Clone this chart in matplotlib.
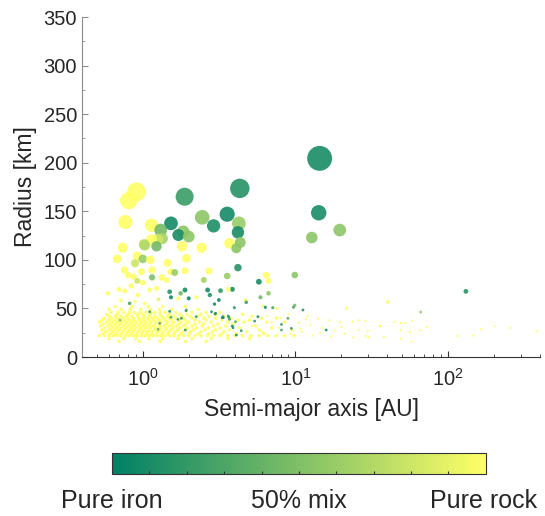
import numpy as np
import matplotlib
matplotlib.use("Agg")
import matplotlib.pyplot as plt
from matplotlib.ticker import FixedLocator, NullFormatter

plt.rcParams["font.family"] = ["Liberation Sans", "DejaVu Sans"]
plt.rcParams["mathtext.fontset"] = "custom"
plt.rcParams["mathtext.rm"] = "Liberation Sans"
plt.rcParams["mathtext.default"] = "regular"

# larger bodies: semi-major axis [AU], radius [km], rock fraction (0 = iron, 1 = rock)
body_a = [0.91, 0.81, 0.77, 1.88, 1.53, 1.31, 1.14, 2.45, 2.91, 3.57, 4.32, 1.71,
          1.84, 2.0, 1.25, 1.34, 1.14, 1.02, 1.23, 1.81, 2.43, 3.7, 0.74, 0.68,
          0.92, 1.0, 1.12, 1.45, 1.93, 14.4, 14.2, 19.5, 12.8, 4.26, 4.2, 4.35,
          4.1, 4.2, 1.03, 0.89, 0.76, 0.98, 1.15, 1.53, 1.62, 1.89, 2.71, 3.57,
          0.80, 0.87, 0.92, 1.15, 1.33, 1.43, 2.51, 1.0, 0.59, 0.70, 0.84, 1.11,
          1.23, 1.50, 1.77, 1.89, 2.66, 3.23, 0.76, 0.93, 0.82, 1.03, 1.27, 1.53,
          1.71, 2.0, 2.25, 2.75, 3.15, 3.63, 0.72, 0.89, 6.44, 6.66, 5.76, 9.9,
          3.86, 6.66, 5.9, 4.69, 4.76, 3.98, 6.13, 6.35, 7.1, 7.55, 9.7, 9.9,
          11.2, 21.6, 130.7, 40.2, 66.2, 2.95, 1.14]
body_r = [170, 161, 139, 165, 137.6, 130.7, 135.6, 143.8, 135, 147, 173.6, 125.6,
          129, 124, 121, 122, 120.5, 116, 114, 114, 112.5, 117, 112.5, 101,
          104, 101, 100, 97, 101.6, 204.5, 148.5, 130.7, 123, 137.6, 128.4, 118,
          112, 92, 115, 96.5, 89.6, 87.8, 89.6, 87.8, 87, 88.8, 88.5, 83.4,
          84.4, 82.7, 78.5, 82, 82, 79.3, 79.3, 76.5, 65.6, 69.7, 73, 69,
          70.7, 67.2, 65.6, 69, 69, 68.3, 68, 63.8, 55.3, 55.3, 59.4, 61.5,
          60.4, 60.4, 61.5, 63.8, 58.7, 69.7, 58, 57, 84.4, 78.5, 77.5, 84.4,
          69.7, 65.6, 61.5, 58.7, 56.3, 50.8, 52.5, 51.2, 50.8, 50, 51.2, 53.2,
          48.4, 50, 67.6, 56.6, 46.3, 54.5, 45]
body_f = [1.0, 1.0, 1.0, 0.22, 0.08, 0.45, 1.0, 0.55, 0.12, 0.08, 0.15, 0.1,
          0.55, 0.55, 0.8, 0.65, 1.0, 0.75, 0.45, 1.0, 1.0, 1.0, 1.0, 1.0,
          1.0, 0.6, 1.0, 1.0, 1.0, 0.1, 0.1, 0.55, 0.55, 0.6, 0.1, 0.55,
          0.55, 0.15, 0.7, 0.8, 1.0, 1.0, 1.0, 1.0, 0.6, 1.0, 1.0, 0.6,
          1.0, 1.0, 0.8, 0.5, 1.0, 1.0, 0.65, 1.0, 1.0, 1.0, 1.0, 1.0,
          1.0, 0.15, 0.45, 0.1, 0.1, 0.2, 1.0, 1.0, 0.3, 1.0, 0.9, 0.1,
          1.0, 0.05, 1.0, 0.15, 0.1, 1.0, 1.0, 1.0, 1.0, 1.0, 0.1, 0.55,
          0.1, 0.55, 0.45, 1.0, 0.25, 0.2, 1.0, 0.1, 0.3, 1.0, 0.35, 0.45,
          0.15, 1.0, 0.15, 1.0, 0.55, 0.1, 0.9]

# small iron-rich bodies sitting in the main swarm
iron_a = [1.5, 1.92, 2.82, 2.97, 1.29, 1.11, 0.71, 3.37, 3.63, 1.53, 1.79, 1.26,
          3.31, 3.66, 3.9, 4.05, 4.42, 5.4, 5.68, 8.1, 8.93, 9.4, 15.9, 4.1,
          1.93, 3.0, 3.35, 3.7, 3.86, 1.9, 8.1, 1.7, 2.24]
iron_r = [47, 47.7, 46.6, 44.3, 34.7, 46.6, 38, 40.5, 42.2, 40.9, 39.8, 28.5,
          40.5, 40.9, 30.2, 36.3, 27.1, 37, 41.5, 33.6, 39.8, 29.5, 27.8, 22.6,
          48.4, 45, 41.5, 38.8, 31.9, 27.8, 27.8, 38.8, 41.5]
iron_f = [0.1, 0.15, 0.1, 0.2, 0.3, 0.2, 0.5, 0.1, 0.15, 0.3, 0.2, 0.4,
          0.1, 0.2, 0.1, 0.3, 0.2, 0.15, 0.1, 0.2, 0.3, 0.2, 0.1, 0.1,
          0.3, 0.1, 0.15, 0.2, 0.1, 0.2, 0.3, 0.25, 0.2]

# main swarm of small rocky bodies, one row per radius [km]
swarm_rows = [
    (52, [0.66, 0.85, 1.08, 1.35, 1.9]),
    (49, [0.6, 0.72, 0.83, 0.97, 1.12, 1.28, 1.55, 2.3]),
    (46, [0.62, 0.69, 0.75, 0.82, 0.88, 0.96, 1.05, 1.13, 1.2, 1.3, 1.4, 1.65,
          2.1, 2.6, 3.2]),
    (44, [0.58, 0.68, 0.8, 0.92, 1.0, 1.12, 1.3, 1.5, 1.75, 1.95, 2.4, 3.0, 4.5]),
    (42, [0.6, 0.66, 0.72, 0.78, 0.85, 0.93, 1.02, 1.1, 1.2, 1.32, 1.45, 1.6,
          1.8, 2.05, 2.3, 2.7, 3.4, 5.2]),
    (40, [0.56, 0.62, 0.68, 0.74, 0.8, 0.87, 0.94, 1.0, 1.08, 1.16, 1.25, 1.36,
          1.5, 1.65, 1.85, 2.1, 2.5, 3.0, 3.8, 6.0, 7.5]),
    (38, [0.54, 0.6, 0.65, 0.7, 0.76, 0.82, 0.88, 0.95, 1.02, 1.1, 1.18, 1.28,
          1.4, 1.55, 1.72, 1.9, 2.2, 2.6, 3.3, 4.2, 5.0]),
    (36, [0.52, 0.58, 0.63, 0.68, 0.73, 0.79, 0.85, 0.91, 0.98, 1.05, 1.13, 1.22,
          1.32, 1.45, 1.6, 1.78, 2.0, 2.35, 2.8, 3.6, 4.6, 6.5, 8.5]),
    (34, [0.55, 0.61, 0.66, 0.71, 0.77, 0.83, 0.89, 0.96, 1.03, 1.11, 1.2, 1.3,
          1.42, 1.56, 1.72, 1.92, 2.2, 2.5, 3.1, 3.9]),
    (32, [0.53, 0.59, 0.64, 0.69, 0.75, 0.81, 0.87, 0.94, 1.01, 1.08, 1.17, 1.27,
          1.38, 1.5, 1.66, 1.85, 2.1, 2.45, 2.9, 3.5, 5.5]),
    (30, [0.56, 0.62, 0.67, 0.72, 0.78, 0.84, 0.9, 0.97, 1.04, 1.12, 1.21, 1.31,
          1.43, 1.58, 1.75, 1.96, 2.25, 2.7, 3.2, 4.3, 7.0]),
    (28, [0.54, 0.6, 0.65, 0.7, 0.76, 0.82, 0.88, 0.95, 1.02, 1.1, 1.19, 1.29,
          1.4, 1.53, 1.7, 1.9, 2.15, 2.55, 3.0, 3.7, 5.8, 9.5]),
    (26, [0.57, 0.63, 0.68, 0.74, 0.8, 0.86, 0.93, 1.0, 1.07, 1.15, 1.25, 1.36,
          1.48, 1.63, 1.82, 2.05, 2.4, 2.85, 3.4, 4.8]),
    (24, [0.55, 0.61, 0.66, 0.72, 0.78, 0.84, 0.91, 0.98, 1.06, 1.14, 1.23, 1.34,
          1.46, 1.6, 1.78, 2.0, 2.3, 2.7, 3.3, 4.1, 6.2]),
    (22, [0.52, 0.56, 0.6, 0.64, 0.68, 0.72, 0.77, 0.82, 0.87, 0.92, 0.98, 1.04,
          1.1, 1.17, 1.24, 1.32, 1.4, 1.5, 1.6, 1.72, 1.85, 2.0, 2.2, 2.4, 2.65,
          2.9, 3.2, 3.6, 4.0, 4.5, 5.1, 5.8, 6.6, 7.5, 8.5, 9.8]),
    (19, [0.6, 0.75, 0.9, 1.1, 1.35, 1.7, 2.1, 2.8, 3.6, 5.0]),
    (16, [0.7, 0.95, 1.3, 1.9, 2.6]),
]

# sparse outer rocky bodies
outer_a = [28.8, 36, 44.9, 49, 51.9, 57.8, 48.8, 56.1, 65.8, 72.3, 29.8, 38,
           165, 202, 256, 380, 116, 146, 28.8, 30.3, 49.2, 57.6, 11.7, 14.1,
           16.7, 19.7, 23.8, 25.9, 35.7, 12.5, 15, 18, 21, 13, 17, 24, 11,
           14.5, 20, 26, 10.5, 12, 9, 8, 7, 6.5, 7.8, 6, 5.2, 9.2, 10.8]
outer_r = [37.4, 32, 36.3, 34.7, 35.3, 37.4, 27.5, 25.4, 27.5, 30.9, 26.8, 20.9,
           28.5, 31.6, 29.9, 26.5, 21.6, 22, 21.6, 20.3, 18.8, 15.8, 38.8, 39.4,
           37.8, 36, 36.3, 37.8, 31.9, 33, 30, 27, 24, 22, 21, 20, 26,
           25, 31, 28, 35, 42, 44, 40, 36, 42, 30, 26, 32, 24, 29]

bar_ticks = [0.1, 0.2, 0.3, 0.4, 0.5, 0.6, 0.7, 0.8, 0.9]
bar_labels = ["Pure iron", "50% mix", "Pure rock"]


def marker_area(r):
    # marker area follows body volume
    return 3.75e-5 * np.asarray(r, dtype=float) ** 3


swarm_a = np.concatenate([np.array(row, dtype=float) for _, row in swarm_rows])
swarm_r = np.concatenate([np.full(len(row), rad, dtype=float) for rad, row in swarm_rows])

cmap = plt.get_cmap("summer")
fig = plt.figure(figsize=(5.45, 5.16), dpi=100)
ax = fig.add_axes([0.1505, 0.3081, 0.8404, 0.6589])

kw = dict(cmap=cmap, vmin=0, vmax=1, linewidths=0, alpha=0.9)
ax.scatter(swarm_a, swarm_r, c=np.ones(len(swarm_a)), s=6.5, **kw)
ax.scatter(outer_a, outer_r, c=np.ones(len(outer_a)), s=2.5, **kw)

order = np.argsort(body_r)[::-1]
ba = np.array(body_a)[order]
br = np.array(body_r)[order]
bf = np.array(body_f)[order]
ax.scatter(ba, br, c=bf, s=np.maximum(marker_area(br), 3.5), **kw)
sc = ax.scatter(iron_a, iron_r, c=iron_f, s=4.0, **kw)

ax.set_xscale("log")
ax.set_xlim(0.4, 400)
ax.set_ylim(0, 350)
ax.set_yticks(np.arange(0, 351, 50))
ax.yaxis.set_minor_locator(FixedLocator(np.arange(25, 350, 50)))
ax.set_xticks([1, 10, 100])
ax.set_xticklabels(["$10^{0}$", "$10^{1}$", "$10^{2}$"])
ax.xaxis.set_minor_formatter(NullFormatter())

for side in ("top", "right"):
    ax.spines[side].set_visible(False)
ax.spines["left"].set_color("#8c8c8c")
ax.spines["bottom"].set_color("#333333")
ax.tick_params(axis="both", which="both", direction="in", labelsize=14.5,
               labelcolor="#262626")
ax.tick_params(axis="y", which="both", colors="#8c8c8c", labelcolor="#262626")
ax.tick_params(axis="x", which="both", colors="#333333", labelcolor="#262626")
ax.tick_params(axis="both", which="major", length=4)
ax.tick_params(axis="both", which="minor", length=2.5)
ax.tick_params(axis="x", which="major", pad=8)

ax.set_xlabel("Semi-major axis [AU]", fontsize=16.5, color="#262626", labelpad=6)
ax.set_ylabel("Radius [km]", fontsize=16.5, color="#262626", labelpad=5)

cax = fig.add_axes([0.2055, 0.0814, 0.686, 0.0407])
cb = fig.colorbar(sc, cax=cax, orientation="horizontal")
cb.solids.set_alpha(1)
cb.set_ticks(bar_ticks)
cb.ax.tick_params(direction="in", length=2, labelbottom=False, color="#333333")
cb.outline.set_edgecolor("#333333")
cb.outline.set_linewidth(0.8)

fig.text(0.205, 0.03, bar_labels[0], ha="center", va="center", fontsize=18, color="#262626")
fig.text(0.548, 0.03, bar_labels[1], ha="center", va="center", fontsize=18, color="#262626")
fig.text(0.888, 0.03, bar_labels[2], ha="center", va="center", fontsize=18, color="#262626")

fig.savefig("out.png", dpi=100)
